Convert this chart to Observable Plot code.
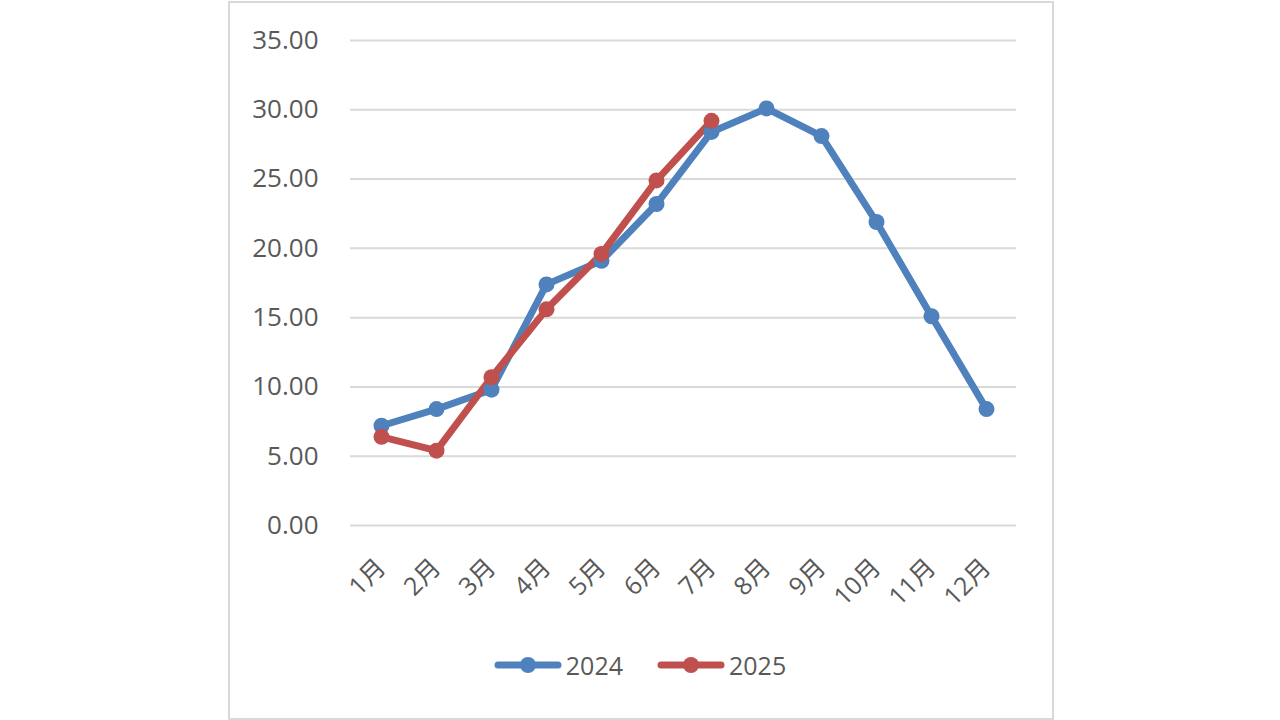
<!DOCTYPE html>
<html>
<head>
<meta charset="utf-8">
<script src="https://cdn.jsdelivr.net/npm/d3@7"></script>
<script src="https://cdn.jsdelivr.net/npm/@observablehq/plot@0.6"></script>
<style>
  html, body { margin: 0; padding: 0; background: #fff; }
  #wrap { position: relative; width: 1280px; height: 720px; overflow: hidden; font-family: "Open Sans", "Noto Sans CJK SC", sans-serif; }
  #frame { position: absolute; left: 228px; top: 1px; width: 822px; height: 715px; border: 2px solid #d9d9d9; pointer-events: none; }
  #chart { position: absolute; left: 0; top: 0; }
  #legend { position: absolute; left: 0; top: 648px; width: 1280px; display: flex; justify-content: center; align-items: center; gap: 34px; color: #595959; font-size: 25px; }
  .item { display: flex; align-items: center; gap: 4px; }
</style>
</head>
<body>
<div id="wrap">
  <div id="chart"></div>
  <div id="legend"></div>
  <div id="frame"></div>
</div>
<script>
const months = ["1月","2月","3月","4月","5月","6月","7月","8月","9月","10月","11月","12月"];
const series2024 = [7.2, 8.4, 9.8, 17.4, 19.1, 23.2, 28.4, 30.1, 28.1, 21.9, 15.1, 8.4];
const series2025 = [6.4, 5.4, 10.7, 15.6, 19.6, 24.9, 29.2];
const seriesNames = ["2024", "2025"];
const colors = ["#4f81bd", "#c0504d"];
const yTicks = [0, 5, 10, 15, 20, 25, 30, 35];

const data = [
  ...series2024.map((v, i) => ({month: months[i], value: v, series: "2024"})),
  ...series2025.map((v, i) => ({month: months[i], value: v, series: "2025"}))
];

const chart = Plot.plot({
  width: 1280,
  height: 630,
  marginLeft: 350,
  marginRight: 264,
  marginTop: 40,
  marginBottom: 105,
  style: {fontFamily: "'Open Sans', 'Noto Sans CJK SC', sans-serif", color: "#595959", background: "transparent"},
  x: {type: "point", domain: months, padding: 0.5, label: null},
  y: {domain: [0, 35], label: null},
  color: {domain: seriesNames, range: colors},
  marks: [
    Plot.ruleY(yTicks, {stroke: "#d9d9d9", strokeWidth: 2}),
    Plot.axisY({ticks: yTicks, tickSize: 0, tickPadding: 32, tickFormat: d => d.toFixed(2), fontSize: 26, label: null}),
    Plot.axisX({tickSize: 0, tickPadding: 38, tickRotate: -45, fontSize: 25, label: null}),
    Plot.line(data, {x: "month", y: "value", z: "series", stroke: "series", strokeWidth: 7, strokeLinejoin: "round", strokeLinecap: "round"}),
    Plot.dot(data, {x: "month", y: "value", fill: "series", r: 8})
  ]
});
document.getElementById("chart").appendChild(chart);

const legend = document.getElementById("legend");
seriesNames.forEach((name, i) => {
  const item = document.createElement("div");
  item.className = "item";
  item.innerHTML = `<svg width="68" height="20"><line x1="4" y1="10" x2="64" y2="10" stroke="${colors[i]}" stroke-width="7" stroke-linecap="round"/><circle cx="34" cy="10" r="8" fill="${colors[i]}"/></svg><span>${name}</span>`;
  legend.appendChild(item);
});
</script>
</body>
</html>
